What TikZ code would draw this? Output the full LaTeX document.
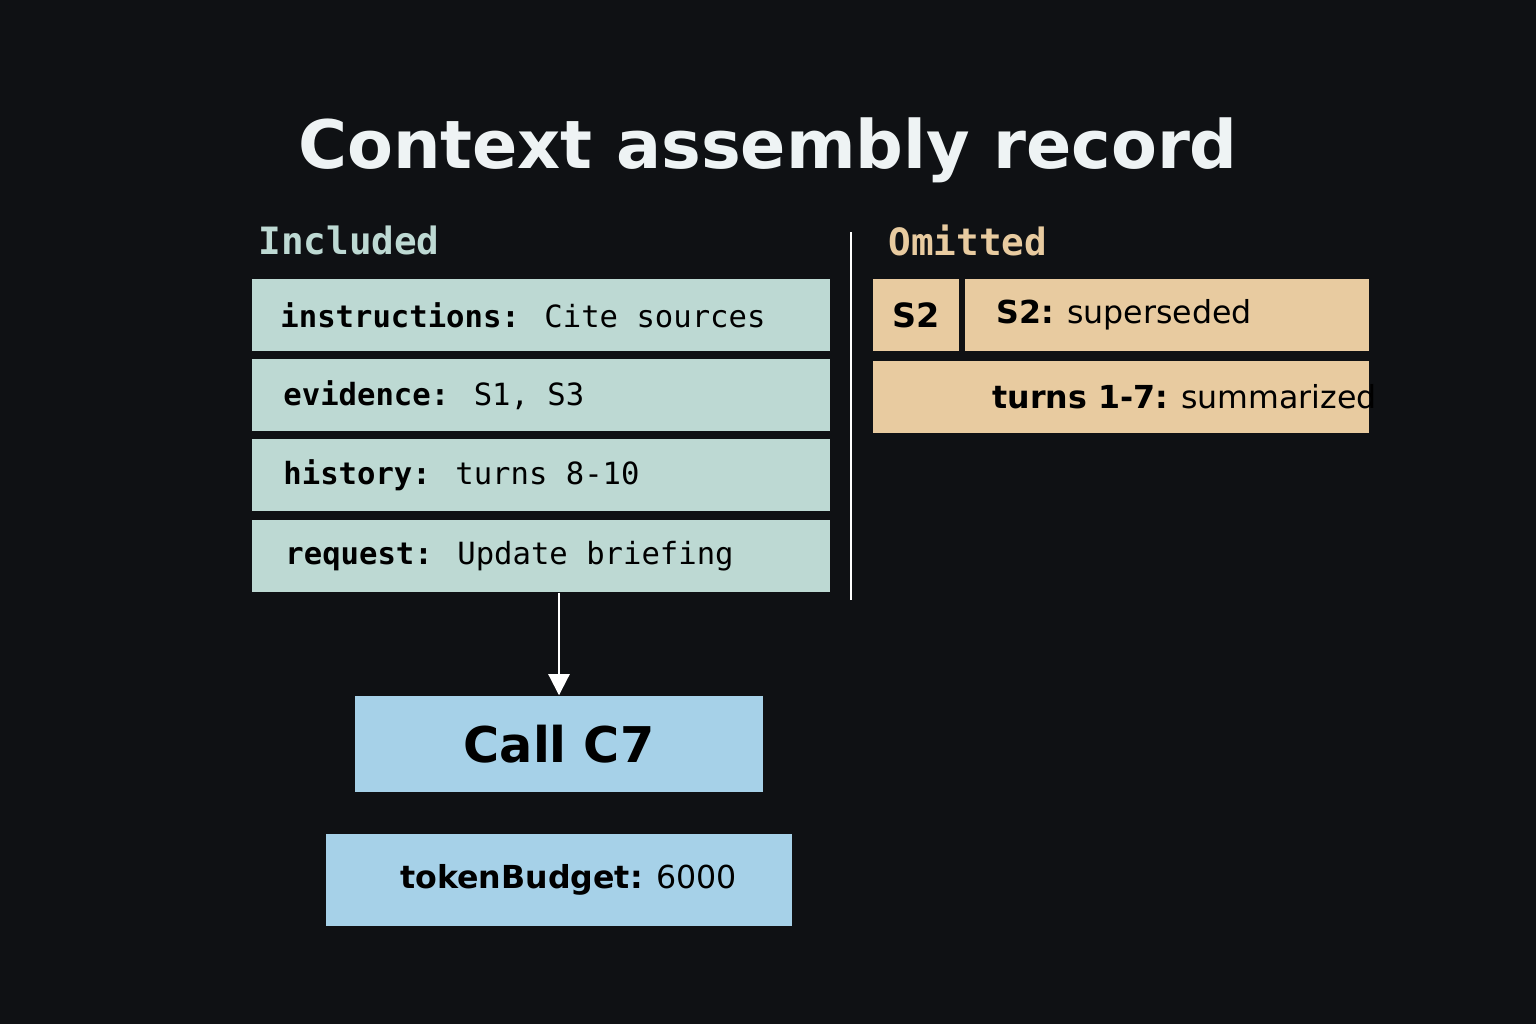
\documentclass[tikz,border=0pt]{standalone}
\usepackage{fontspec}
\setmainfont{DejaVu Sans}
\newfontfamily\monofont{DejaVu Sans Mono}
\usetikzlibrary{positioning,arrows.meta}
\definecolor{bgcol}{HTML}{0F1114}
\definecolor{inccol}{HTML}{BDD9D3}
\definecolor{omicol}{HTML}{E8CBA0}
\definecolor{callcol}{HTML}{A6D1E8}
\definecolor{titlecol}{HTML}{EEF3F4}
\tikzset{
  rowbox/.style={fill=inccol, minimum height=0.72cm, minimum width=5.78cm, inner sep=0pt},
  omibox/.style={fill=omicol, minimum height=0.72cm, inner sep=0pt},
  callbox/.style={fill=callcol, inner sep=0pt},
  boxtext/.style={anchor=west, font=\monofont\fontsize{8.7}{10}\selectfont, text=black},
  heading/.style={anchor=west, font=\monofont\bfseries\fontsize{10.7}{12}\selectfont},
}
\begin{document}
\begin{tikzpicture}[x=0.01cm,y=-0.01cm]
\fill[bgcol] (0,0) rectangle (1536,1024);
\useasboundingbox (0,0) rectangle (1536,1024);
\node (title) at (768,150) [font=\bfseries\fontsize{19}{22}\selectfont, text=titlecol] {Context assembly record};
% included column
\node (inc) at (246,240) [heading, text=inccol] {Included};
\node (r1) at (541,315) [rowbox] {};
\node (r2) at (541,395) [rowbox] {};
\node (r3) at (541,475) [rowbox] {};
\node (r4) at (541,556) [rowbox] {};
\node at (268,315) [boxtext] {\textbf{instructions:} Cite sources};
\node at (271,395) [boxtext] {\textbf{evidence:} S1, S3};
\node at (271,475) [boxtext] {\textbf{history:} turns 8-10};
\node at (273,556) [boxtext] {\textbf{request:} Update briefing};
% divider
\draw[white, line width=0.6pt] (851,232) -- (851,600);
% omitted column
\node (omi) at (876,240) [heading, text=omicol] {Omitted};
\node (s2) at (916,315) [omibox, minimum width=0.86cm] {};
\node at (s2) [font=\bfseries\fontsize{9.5}{11}\selectfont] {S2};
\node (s2sup) at (1167,315) [omibox, minimum width=4.04cm] {};
\node at (984,315) [boxtext, font=\fontsize{9}{11}\selectfont] {\textbf{S2:} superseded};
\node (turns) at (1121,397) [omibox, minimum width=4.96cm] {};
\node at (980,397) [boxtext, font=\fontsize{9}{11}\selectfont] {\textbf{turns 1-7:} summarized};
% call
\node (call) at (559,744) [callbox, minimum width=4.07cm, minimum height=0.96cm, font=\bfseries\fontsize{14}{16}\selectfont] {Call C7};
\node (budget) at (559,880) [callbox, minimum width=4.66cm, minimum height=0.91cm] {};
\node at (388,880) [boxtext, font=\fontsize{9}{11}\selectfont] {\textbf{tokenBudget:} 6000};
\draw[white, line width=0.6pt, -{Triangle[length=6pt,width=6pt]}] (r4.south -| call.north) -- (call.north);
\end{tikzpicture}
\end{document}
